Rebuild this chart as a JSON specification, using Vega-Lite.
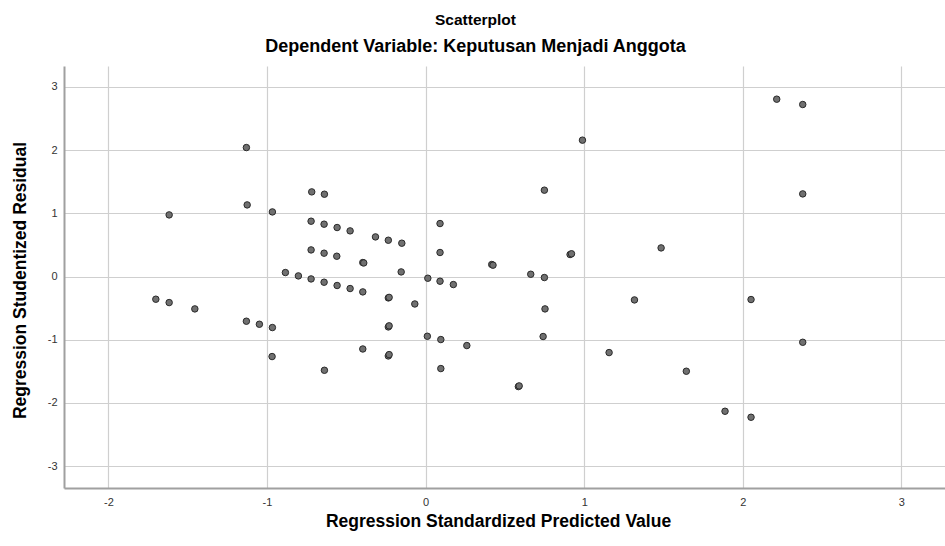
{
  "$schema": "https://vega.github.io/schema/vega-lite/v6.json",
  "autosize": "none",
  "width": 881,
  "height": 422,
  "padding": {"left": 64, "top": 66, "right": 0, "bottom": 58},
  "background": "white",
  "config": {
    "font": "Liberation Sans",
    "view": {"stroke": null}
  },
  "title": {
    "text": "Scatterplot",
    "subtitle": "Dependent Variable: Keputusan Menjadi Anggota",
    "fontSize": 15.5,
    "fontWeight": "bold",
    "subtitleFontSize": 18,
    "subtitleFontWeight": "bold",
    "subtitleColor": "black",
    "color": "black",
    "subtitlePadding": 10,
    "offset": 10,
    "dx": -29,
    "anchor": "middle"
  },
  "data": {
    "values": [
      {"x": -1.13, "y": 2.04}, {"x": -1.617, "y": 0.975}, {"x": -1.125, "y": 1.133}, {"x": -0.966, "y": 1.022},
      {"x": -0.718, "y": 1.339}, {"x": -0.638, "y": 1.302}, {"x": -0.722, "y": 0.875}, {"x": -0.64, "y": 0.828},
      {"x": -0.558, "y": 0.775}, {"x": -0.476, "y": 0.722}, {"x": -0.316, "y": 0.627}, {"x": -0.235, "y": 0.574},
      {"x": -0.15, "y": 0.527}, {"x": -0.722, "y": 0.421}, {"x": -0.64, "y": 0.369}, {"x": -0.56, "y": 0.321},
      {"x": -0.396, "y": 0.221}, {"x": -0.39, "y": 0.215}, {"x": -0.884, "y": 0.063}, {"x": -0.802, "y": 0.01},
      {"x": -0.722, "y": -0.038}, {"x": -0.64, "y": -0.09}, {"x": -0.558, "y": -0.142}, {"x": -0.476, "y": -0.19},
      {"x": -0.396, "y": -0.243}, {"x": -0.235, "y": -0.338}, {"x": -0.23, "y": -0.33}, {"x": -1.701, "y": -0.359},
      {"x": -1.617, "y": -0.412}, {"x": -1.455, "y": -0.512}, {"x": -1.13, "y": -0.707}, {"x": -1.048, "y": -0.755},
      {"x": -0.966, "y": -0.807}, {"x": -0.235, "y": -0.797}, {"x": -0.23, "y": -0.78}, {"x": -0.396, "y": -1.146},
      {"x": -0.968, "y": -1.266}, {"x": -0.235, "y": -1.256}, {"x": -0.23, "y": -1.235}, {"x": -0.638, "y": -1.483},
      {"x": -0.154, "y": 0.073}, {"x": 0.417, "y": 0.19}, {"x": 0.425, "y": 0.18}, {"x": 0.663, "y": 0.036},
      {"x": 0.749, "y": -0.016}, {"x": 0.014, "y": -0.027}, {"x": 0.091, "y": -0.074}, {"x": 0.175, "y": -0.127},
      {"x": -0.068, "y": -0.434}, {"x": 0.753, "y": -0.512}, {"x": 0.011, "y": -0.945}, {"x": 0.096, "y": -0.997},
      {"x": 0.26, "y": -1.092}, {"x": 0.741, "y": -0.949}, {"x": 0.096, "y": -1.456}, {"x": 0.585, "y": -1.741},
      {"x": 0.59, "y": -1.73}, {"x": 1.317, "y": -0.37}, {"x": 1.157, "y": -1.203}, {"x": 0.989, "y": 2.157},
      {"x": 0.749, "y": 1.366}, {"x": 0.091, "y": 0.838}, {"x": 0.091, "y": 0.38}, {"x": 0.911, "y": 0.348},
      {"x": 0.92, "y": 0.36}, {"x": 1.485, "y": 0.453}, {"x": 2.214, "y": 2.805}, {"x": 2.378, "y": 2.721},
      {"x": 2.378, "y": 1.307}, {"x": 2.052, "y": -0.364}, {"x": 2.378, "y": -1.04}, {"x": 1.644, "y": -1.498},
      {"x": 1.888, "y": -2.131}, {"x": 2.052, "y": -2.226}
    ]
  },
  "mark": {"type": "point", "filled": true, "fill": "#707070", "stroke": "#2a2a2a", "strokeWidth": 1, "size": 42, "opacity": 1, "fillOpacity": 1},
  "encoding": {
    "x": {
      "field": "x", "type": "quantitative",
      "scale": {"domain": [-2.28, 3.275], "nice": false, "zero": false},
      "axis": {
        "title": "Regression Standardized Predicted Value",
        "values": [-2, -1, 0, 1, 2, 3],
        "labelExpr": "'' + datum.value",
        "grid": true, "gridColor": "#cfcfcf", "gridWidth": 1.2,
        "ticks": false, "labelPadding": 8, "labelFontSize": 11, "labelColor": "#333333",
        "domainColor": "#a0a0a0", "domainWidth": 2,
        "titleFontSize": 17.5, "titleFontWeight": "bold", "titleColor": "black",
        "titleY": 33, "titleBaseline": "middle", "titleX": 434
      }
    },
    "y": {
      "field": "y", "type": "quantitative",
      "scale": {"domain": [-3.345, 3.33], "nice": false, "zero": false},
      "axis": {
        "title": "Regression Studentized Residual",
        "values": [-3, -2, -1, 0, 1, 2, 3],
        "labelExpr": "'' + datum.value",
        "grid": true, "gridColor": "#cfcfcf", "gridWidth": 1.2,
        "ticks": false, "labelPadding": 7, "labelFontSize": 11, "labelColor": "#333333",
        "domainColor": "#a0a0a0", "domainWidth": 2,
        "titleFontSize": 17.5, "titleFontWeight": "bold", "titleColor": "black",
        "titleX": -44, "titleY": 214, "titleAngle": -90, "titleBaseline": "middle", "titleAlign": "center"
      }
    }
  }
}
